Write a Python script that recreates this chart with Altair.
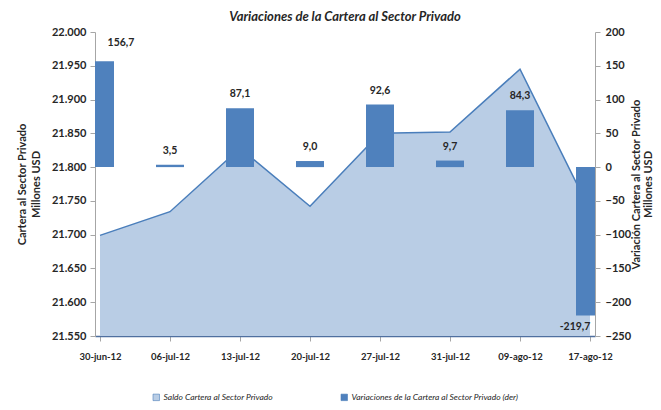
import altair as alt
import pandas as pd

fechas = ["30-jun-12", "06-jul-12", "13-jul-12", "20-jul-12",
          "27-jul-12", "31-jul-12", "09-ago-12", "17-ago-12"]
saldo = [21699, 21734, 21828, 21742, 21850, 21852, 21945, 21736]
variacion = [156.7, 3.5, 87.1, 9.0, 92.6, 9.7, 84.3, -219.7]

serie_saldo = "Saldo Cartera al Sector Privado"
serie_var = "Variaciones de la Cartera al Sector Privado (der)"

df = pd.DataFrame({
    "idx": list(range(len(fechas))),
    "fecha": fechas,
    "saldo": saldo,
    "variacion": variacion,
})
df["etiqueta"] = [f"{v:.1f}".replace(".", ",") for v in variacion]

FONT = "Lato"
AXIS_GRAY = "#A6A6A6"
TXT = "#262626"
BAR = "#4F81BD"
AREA = "#B9CDE5"
LINE = "#4A7EBB"

label_expr = "[" + ",".join(f"'{f}'" for f in fechas) + "][datum.value]"

x = alt.X(
    "idx:Q",
    scale=alt.Scale(domain=[0, len(fechas) - 1], nice=False, zero=False),
    axis=alt.Axis(
        values=list(range(len(fechas))), labelExpr=label_expr, title=None,
        grid=False, domainColor="#4F6F9F", domainWidth=1.5,
        tickColor=AXIS_GRAY, tickSize=5, labelFlush=False,
        labelFont=FONT, labelFontSize=9.5, labelFontWeight="bold",
        labelColor=TXT, labelPadding=10,
    ),
)

y_left = alt.Y(
    "saldo:Q",
    scale=alt.Scale(domain=[21550, 22000], zero=False, nice=False),
    axis=alt.Axis(
        orient="left", values=list(range(21550, 22001, 50)),
        labelExpr="replace(format(datum.value, ','), ',', '.')",
        title=["Cartera al Sector Privado", "Millones USD"],
        titleFont=FONT, titleFontSize=11, titleFontWeight="bold", titleColor=TXT,
        titlePadding=10, titleLineHeight=14,
        grid=False, domainColor=AXIS_GRAY, tickColor=AXIS_GRAY, tickSize=5,
        labelFont=FONT, labelFontSize=11, labelFontWeight="bold", labelColor=TXT,
        labelPadding=4,
    ),
)

y_right = alt.Y(
    "variacion:Q",
    scale=alt.Scale(domain=[-250, 200], nice=False),
    axis=alt.Axis(
        orient="right", values=list(range(-250, 201, 50)),
        title=["Variación Cartera al Sector Privado", "Millones USD"],
        titleAngle=270, titleBaseline="top", titleX=35, titleY=152,
        titleFont=FONT, titleFontSize=11, titleFontWeight="bold", titleColor=TXT,
        titleLineHeight=12,
        grid=False, domainColor=AXIS_GRAY, tickColor=AXIS_GRAY, tickSize=5,
        labelFont=FONT, labelFontSize=11, labelFontWeight="bold", labelColor=TXT,
        labelPadding=5,
    ),
)

fill = alt.Fill(
    "serie:N",
    scale=alt.Scale(domain=[serie_saldo, serie_var], range=[AREA, BAR]),
    legend=alt.Legend(
        title=None, orient="none", direction="horizontal", columns=2,
        legendX=57, legendY=361, columnPadding=66, labelLimit=300,
        labelFont=FONT, labelFontSize=8.5, labelFontStyle="italic", labelColor=TXT,
        symbolType="square", symbolSize=42, symbolStrokeColor=LINE,
        symbolStrokeWidth=0.6, labelOffset=3,
    ),
)

base = alt.Chart(df)

area = base.mark_area(opacity=1, clip=True).encode(
    x=x, y=y_left, y2=alt.datum(21550), fill=fill
).transform_calculate(serie=f"'{serie_saldo}'")

line = base.mark_line(color=LINE, strokeWidth=1.5).encode(x=x, y=y_left)

bars = base.mark_bar(width=28, clip=True).encode(
    x=x, y=y_right, fill=fill
).transform_calculate(serie=f"'{serie_var}'")

txt_style = dict(font=FONT, fontSize=10.5, fontWeight="bold", color=TXT, baseline="middle")

labels_mid = base.mark_text(dy=-14, **txt_style).encode(
    x=x, y=y_right, text="etiqueta:N"
).transform_filter("datum.idx > 0 && datum.variacion > 0")

label_first = base.mark_text(dy=-18, dx=21, **txt_style).encode(
    x=x, y=y_right, text="etiqueta:N"
).transform_filter("datum.idx == 0")

label_last = base.mark_text(dy=11, dx=-15, **txt_style).encode(
    x=x, y=y_right, text="etiqueta:N"
).transform_filter("datum.variacion < 0")

left = alt.layer(area, line)
right = alt.layer(bars, labels_mid, label_first, label_last)

chart = alt.layer(left, right).resolve_scale(y="independent").properties(
    width=500, height=304,
    title=alt.TitleParams(
        "Variaciones de la Cartera al Sector Privado", font=FONT, fontSize=13,
        fontWeight="bold", fontStyle="italic", color=TXT, anchor="middle",
        frame="group", offset=2,
    ),
    autosize=alt.AutoSizeParams(type="none"),
    padding={"left": 87, "top": 24, "right": 58, "bottom": 66},
    background="white",
).configure_view(stroke=None)

chart.save("out.html", embed_options={"renderer": "svg", "actions": False})
